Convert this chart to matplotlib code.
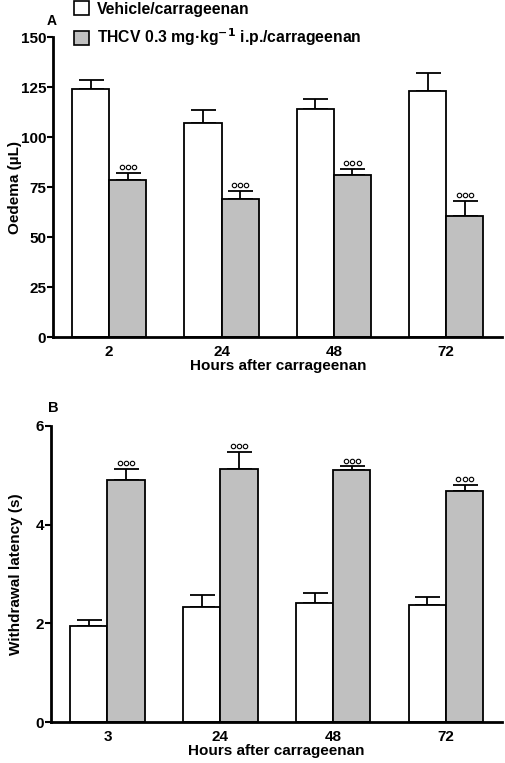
import matplotlib.pyplot as plt
from matplotlib.patches import Patch
import numpy as np

plt.rcParams['font.family'] = ['Liberation Sans', 'DejaVu Sans']
plt.rcParams['font.weight'] = 'bold'
plt.rcParams['axes.labelweight'] = 'bold'
plt.rcParams['mathtext.default'] = 'bf'

# Panel A - oedema
hours_a = ['2', '24', '48', '72']
veh_a = [124, 107, 114, 123]
veh_a_err = [4.5, 6.5, 5, 9]
thcv_a = [78.5, 69, 81, 60.5]
thcv_a_err = [3.5, 4, 3, 7.5]

# Panel B - withdrawal latency
hours_b = ['3', '24', '48', '72']
veh_b = [1.95, 2.33, 2.42, 2.37]
veh_b_err = [0.12, 0.24, 0.2, 0.16]
thcv_b = [4.9, 5.12, 5.1, 4.68]
thcv_b_err = [0.23, 0.36, 0.08, 0.12]

gray = '#c0c0c0'
w = 0.33

fig = plt.figure(figsize=(5.05, 7.63), dpi=100)
ax1 = fig.add_axes([0.105, 0.5583, 0.89, 0.3932])
ax2 = fig.add_axes([0.101, 0.0537, 0.894, 0.388])


def draw(ax, labels, veh, veh_err, thcv, thcv_err, ylim, yticks, ylabel, mark_off, label_x):
    x = np.arange(len(labels))
    ax.bar(x - w / 2, veh, w, color='white', edgecolor='black', linewidth=1.3, zorder=2)
    ax.bar(x + w / 2, thcv, w, color=gray, edgecolor='black', linewidth=1.3, zorder=2)
    ax.errorbar(x - w / 2, veh, yerr=[np.zeros(len(veh)), veh_err], fmt='none',
                ecolor='black', elinewidth=1.3, capsize=9, capthick=1.3, zorder=1)
    ax.errorbar(x + w / 2, thcv, yerr=[np.zeros(len(thcv)), thcv_err], fmt='none',
                ecolor='black', elinewidth=1.3, capsize=9, capthick=1.3, zorder=1)
    # significance marks (three small open circles)
    for xi, v, e in zip(x, thcv, thcv_err):
        ax.plot(xi + w / 2 + np.array([-0.055, 0, 0.055]), [v + e + mark_off] * 3,
                'o', ms=3.2, mfc='white', mec='black', mew=0.8, clip_on=False)
    ax.set_xlim(-0.5, 3.5)
    ax.set_ylim(*ylim)
    ax.set_yticks(yticks)
    ax.set_xticks(x)
    ax.set_xticklabels(labels)
    ax.set_ylabel(ylabel, fontsize=11)
    ax.yaxis.set_label_coords(label_x, 0.5)
    ax.set_xlabel('Hours after carrageenan', fontsize=11, labelpad=0)
    ax.spines['top'].set_visible(False)
    ax.spines['right'].set_visible(False)
    ax.spines['left'].set_linewidth(2)
    ax.spines['bottom'].set_linewidth(2)
    ax.tick_params(axis='y', length=4, width=1.5, labelsize=11, pad=1)
    ax.tick_params(axis='x', length=0, labelsize=11, pad=6)


draw(ax1, hours_a, veh_a, veh_a_err, thcv_a, thcv_a_err, (0, 150),
     [0, 25, 50, 75, 100, 125, 150], 'Oedema (µL)', 3, -0.069)
draw(ax2, hours_b, veh_b, veh_b_err, thcv_b, thcv_b_err, (0, 6),
     [0, 2, 4, 6], 'Withdrawal latency (s)', 0.12, -0.062)

fig.text(0.103, 0.972, 'A', fontsize=10, ha='center', va='center')
fig.text(0.105, 0.465, 'B', fontsize=10.5, ha='center', va='center')

handles = [Patch(facecolor='white', edgecolor='black', linewidth=1.2),
           Patch(facecolor=gray, edgecolor='black', linewidth=1.2)]
fig.legend(handles, ['Vehicle/carrageenan', r'THCV 0.3 mg·kg$^{-1}$ i.p./carrageenan'],
           loc='upper left', bbox_to_anchor=(0.118, 1.017), frameon=False,
           fontsize=11.3, handlelength=1.0, handleheight=1.0, labelspacing=0.65,
           handletextpad=0.5)

fig.savefig('out.png', dpi=100)
